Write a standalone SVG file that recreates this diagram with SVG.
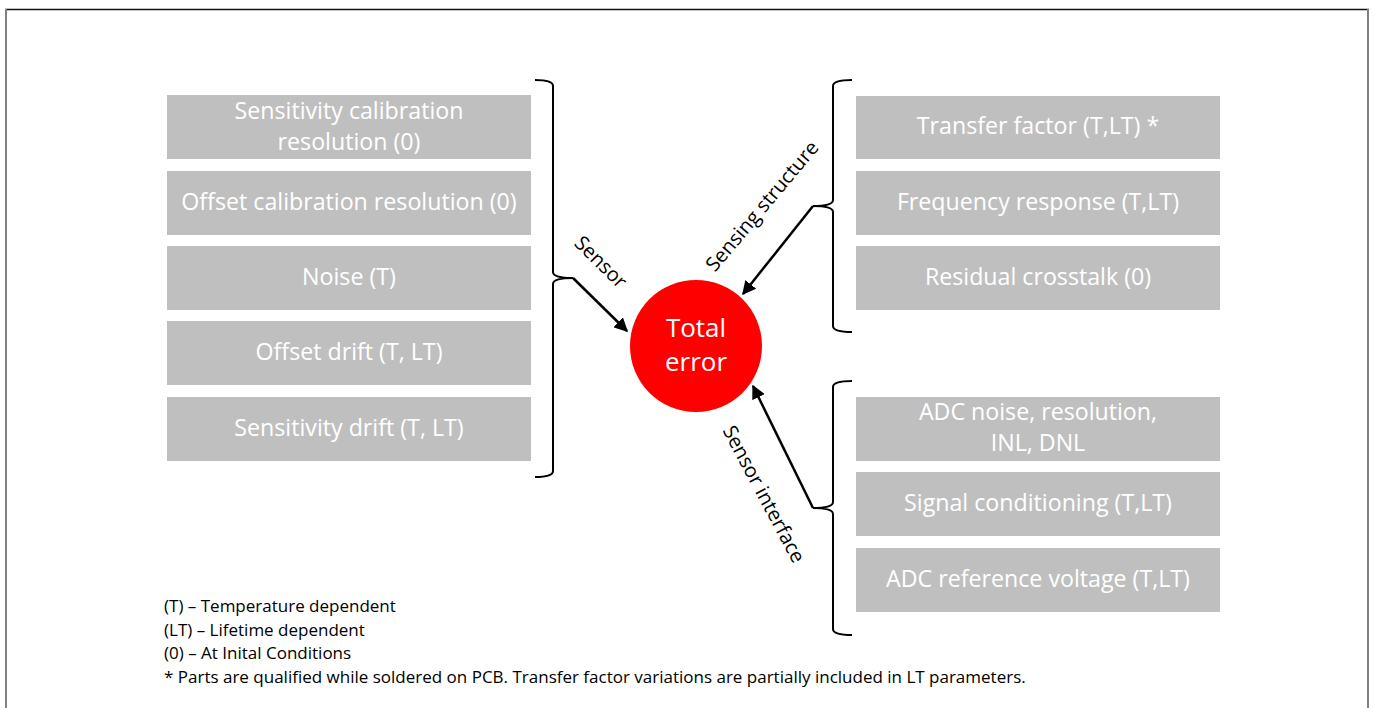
<svg xmlns="http://www.w3.org/2000/svg" width="1375" height="708" viewBox="0 0 1375 708">
<defs>
<marker id="ah" viewBox="0 0 10 10" refX="9" refY="5" markerWidth="5.5" markerHeight="5.5" orient="auto" markerUnits="strokeWidth">
<path d="M0,0 L10,5 L0,10 z" fill="#000"/>
</marker>
<style>
.box{fill:#bfbfbf}
.bt{font-family:"Open Sans","Liberation Sans",sans-serif;font-size:23.2px;fill:#fff;text-anchor:middle}
.br{fill:none;stroke:#000;stroke-width:2}
.ar{fill:none;stroke:#000;stroke-width:2.5;marker-end:url(#ah)}
.lab{font-family:"Open Sans","Liberation Sans",sans-serif;font-size:20px;fill:#000;text-anchor:middle}
.leg{font-family:"Open Sans","Liberation Sans",sans-serif;font-size:17px;fill:#000}
</style>
</defs>
<rect x="0" y="0" width="1375" height="708" fill="#fff"/>
<line x1="5" y1="9.5" x2="1369" y2="9.5" stroke="#111" stroke-width="1.5"/>
<line x1="6" y1="9" x2="6" y2="708" stroke="#808080" stroke-width="2"/>
<line x1="1368" y1="9" x2="1368" y2="708" stroke="#808080" stroke-width="2"/>

<g id="n-scr"><rect class="box" x="167" y="95" width="364" height="64"/><text class="bt" x="349" y="119">Sensitivity calibration</text><text class="bt" x="349" y="150">resolution (0)</text></g>
<g id="n-ocr"><rect class="box" x="167" y="171" width="364" height="64"/><text class="bt" x="349" y="210">Offset calibration resolution (0)</text></g>
<g id="n-noise"><rect class="box" x="167" y="246" width="364" height="64"/><text class="bt" x="349" y="285">Noise (T)</text></g>
<g id="n-od"><rect class="box" x="167" y="321" width="364" height="64"/><text class="bt" x="349" y="360">Offset drift (T, LT)</text></g>
<g id="n-sd"><rect class="box" x="167" y="397" width="364" height="64"/><text class="bt" x="349" y="436">Sensitivity drift (T, LT)</text></g>

<g id="n-tf"><rect class="box" x="856" y="96" width="364" height="63"/><text class="bt" x="1038" y="134">Transfer factor (T,LT) *</text></g>
<g id="n-fr"><rect class="box" x="856" y="171" width="364" height="64"/><text class="bt" x="1038" y="210">Frequency response (T,LT)</text></g>
<g id="n-rc"><rect class="box" x="856" y="246" width="364" height="64"/><text class="bt" x="1038" y="285">Residual crosstalk (0)</text></g>
<g id="n-adc"><rect class="box" x="856" y="397" width="364" height="64"/><text class="bt" x="1038" y="420">ADC noise, resolution,</text><text class="bt" x="1038" y="451">INL, DNL</text></g>
<g id="n-sc"><rect class="box" x="856" y="472" width="364" height="64"/><text class="bt" x="1038" y="511">Signal conditioning (T,LT)</text></g>
<g id="n-ref"><rect class="box" x="856" y="548" width="364" height="64"/><text class="bt" x="1038" y="587">ADC reference voltage (T,LT)</text></g>

<g id="n-total"><circle cx="696" cy="346" r="66" fill="#ff0000"/><text class="bt" x="696" y="337" style="font-size:26px">Total</text><text class="bt" x="696" y="371" style="font-size:26px">error</text></g>

<g id="connectors">
<path class="br" d="M535,80 Q553,80 553,86 L553,272 Q553,278 573,278 Q553,278 553,284 L553,471 Q553,477 535,477"/>
<path class="ar" d="M573,278 L627,331"/>
<path class="br" d="M852,80 Q833,80 833,86 L833,200 Q833,206 813,206 Q833,206 833,212 L833,326 Q833,332 852,332"/>
<path class="ar" d="M813,206 L743,294"/>
<path class="br" d="M852,381 Q833,381 833,387 L833,502 Q833,508 813,508 Q833,508 833,514 L833,629 Q833,635 852,635"/>
<path class="ar" d="M813,508 L753,386"/>
</g>

<g id="labels">
<text class="lab" transform="translate(601,262) rotate(45)" y="7">Sensor</text>
<text class="lab" transform="translate(762,206) rotate(-50)" y="7">Sensing structure</text>
<text class="lab" transform="translate(764,494) rotate(62)" y="7">Sensor interface</text>
</g>

<g id="legend">
<text class="leg" x="164" y="612">(T) – Temperature dependent</text>
<text class="leg" x="164" y="636">(LT) – Lifetime dependent</text>
<text class="leg" x="164" y="659">(0) – At Inital Conditions</text>
<text class="leg" x="164" y="683">* Parts are qualified while soldered on PCB. Transfer factor variations are partially included in LT parameters.</text>
</g>
</svg>
